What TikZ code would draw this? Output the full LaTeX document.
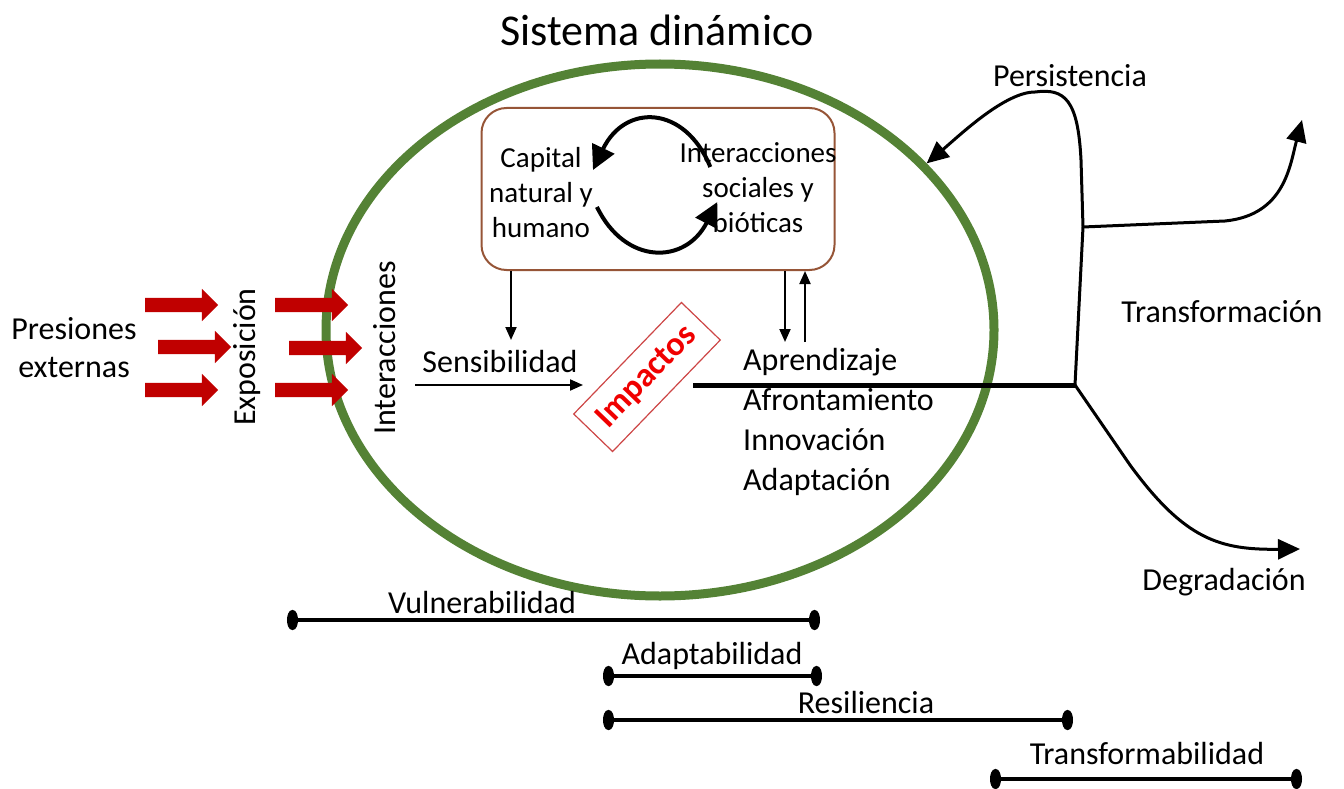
\documentclass[tikz,border=0pt]{standalone}
\usepackage{fontspec}
\setmainfont{Carlito}
\usetikzlibrary{arrows.meta,shapes.geometric,shapes.arrows,calc}
\definecolor{ringgreen}{RGB}{84,130,53}
\definecolor{boxbrown}{RGB}{150,85,55}
\definecolor{pressred}{RGB}{192,0,0}
\definecolor{impred}{RGB}{240,0,0}
\definecolor{impbox}{RGB}{205,70,70}
\tikzstyle{txt}=[font=\fontsize{32}{40}\selectfont,inner sep=0pt]
\tikzstyle{boxtxt}=[font=\fontsize{29}{35}\selectfont,inner sep=0pt,align=center]
\tikzstyle{pressure}=[single arrow,fill=pressred,minimum height=73pt,minimum width=32pt,single arrow head extend=9pt,inner sep=7pt]
\tikzstyle{loopedge}=[draw,line width=4pt,-{Triangle[length=24pt,width=24pt]}]
\tikzstyle{thinedge}=[draw,line width=2pt,-{Triangle[length=13pt,width=11pt]}]
\tikzstyle{fate}=[draw,line width=3pt,-{Triangle[length=22pt,width=20pt]}]
\tikzstyle{spanbar}=[draw,line width=4pt,{Ellipse[length=11pt,width=20pt]}-{Ellipse[length=11pt,width=20pt]}]

\begin{document}
\begin{tikzpicture}[x=1pt,y=-1pt]
    \useasboundingbox (0,0) rectangle (1344,789);

    \node[ellipse,draw=ringgreen,line width=9pt,minimum width=668pt,minimum height=532pt,inner sep=0pt] (ring) at (660,330) {};
    \node[txt,font=\fontsize{44}{50}\selectfont] (title) at (657,30) {Sistema dinámico};

    % inner box with the two poles
    \node[draw=boxbrown,line width=2pt,rounded corners=25pt,minimum width=353pt,minimum height=162pt] (sys) at (658,189) {};
    \node[boxtxt] (cap) at (541,193) {Capital\\natural y\\humano};
    \node[boxtxt] (inter) at (758,188) {Interacciones\\sociales y\\bióticas};
    \path[loopedge] ($(inter.west)+(31,-21)$) .. controls (685,105) and (625,103) .. ($(cap.east)+(0,-23)$);
    \path[loopedge] ($(cap.east)+(4,14)$) .. controls (625,265) and (685,265) .. ($(inter.west)+(38,14)$);

    \foreach \pos/ \name in {{(178,305)/pa},{(191,347)/pb},{(178,390)/pc},{(308,305)/pd},{(322,348)/pe},{(308,390)/pf}}
        \node[pressure] (\name) at \pos {};

    \node[txt,align=center,font=\fontsize{32}{38}\selectfont] (press) at (74,348) {Presiones\\externas};
    \node[txt,rotate=90] (expo) at (247,357) {Exposición};
    \node[txt,rotate=90] (interlbl) at (385,348) {Interacciones};
    \node[txt] (sens) at (500,362) {Sensibilidad};
    \node[draw=impbox,line width=1.2pt,rotate=46,minimum width=155pt,minimum height=54pt,inner sep=0pt,text=impred,font=\bfseries\fontsize{34}{40}\selectfont] (imp) at (647,377) {Impactos};
    \node[txt,align=left,anchor=west] (resp) at (743,422) {Aprendizaje\\Afrontamiento\\Innovación\\Adaptación};

    \coordinate (sens-in) at (415,385);
    \coordinate (sens-out) at (583,385);
    \coordinate (sens-top) at (511,340);
    \coordinate (learn-dn) at (785,342);
    \coordinate (learn-up) at (805,342);
    \path[thinedge] (sens-in) -- (sens-out);
    \path[thinedge] (sys.south -| sens-top) -- (sens-top);
    \path[thinedge] (sys.south -| learn-dn) -- (learn-dn);
    \path[thinedge] (learn-up) -- (sys.south -| learn-up);

    % the three fates
    \coordinate (out) at (693,385);
    \coordinate (fork) at (1075,385);
    \coordinate (split) at (1083,227);
    \coordinate (trans-tip) at (1302,120);
    \coordinate (degr-tip) at (1300,549);
    \draw[line width=5pt] (out) -- (fork);
    \path[fate] (fork) -- (split) -- (1081,160) .. controls (1078,100) and (1065,88) .. (1035,92) .. controls (1005,92) and (960,135) .. (ring.32);
    \path[fate] (split) -- (1225,221) .. controls (1285,215) and (1290,165) .. (trans-tip);
    \path[fate] (fork) -- (1130,465) .. controls (1185,540) and (1220,550) .. (degr-tip);

    \node[txt] (pers) at (1070,76) {Persistencia};
    \node[txt] (transf) at (1222,312) {Transformación};
    \node[txt] (degr) at (1224,582) {Degradación};

    \foreach \name/ \xa/ \xb/ \y/ \lx/ \ly/ \text in {vul/287/820/620/482/603/Vulnerabilidad, ada/603/822/676/712/656/Adaptabilidad, res/603/1073/720/866/703/Resiliencia, tra/990/1302/779/1147/754/Transformabilidad}
    {
        \coordinate (\name-l) at (\xa,\y);
        \coordinate (\name-r) at (\xb,\y);
        \path[spanbar] (\name-l) -- (\name-r);
        \node[txt] (\name) at (\lx,\ly) {\text};
    }

\end{tikzpicture}
\end{document}
